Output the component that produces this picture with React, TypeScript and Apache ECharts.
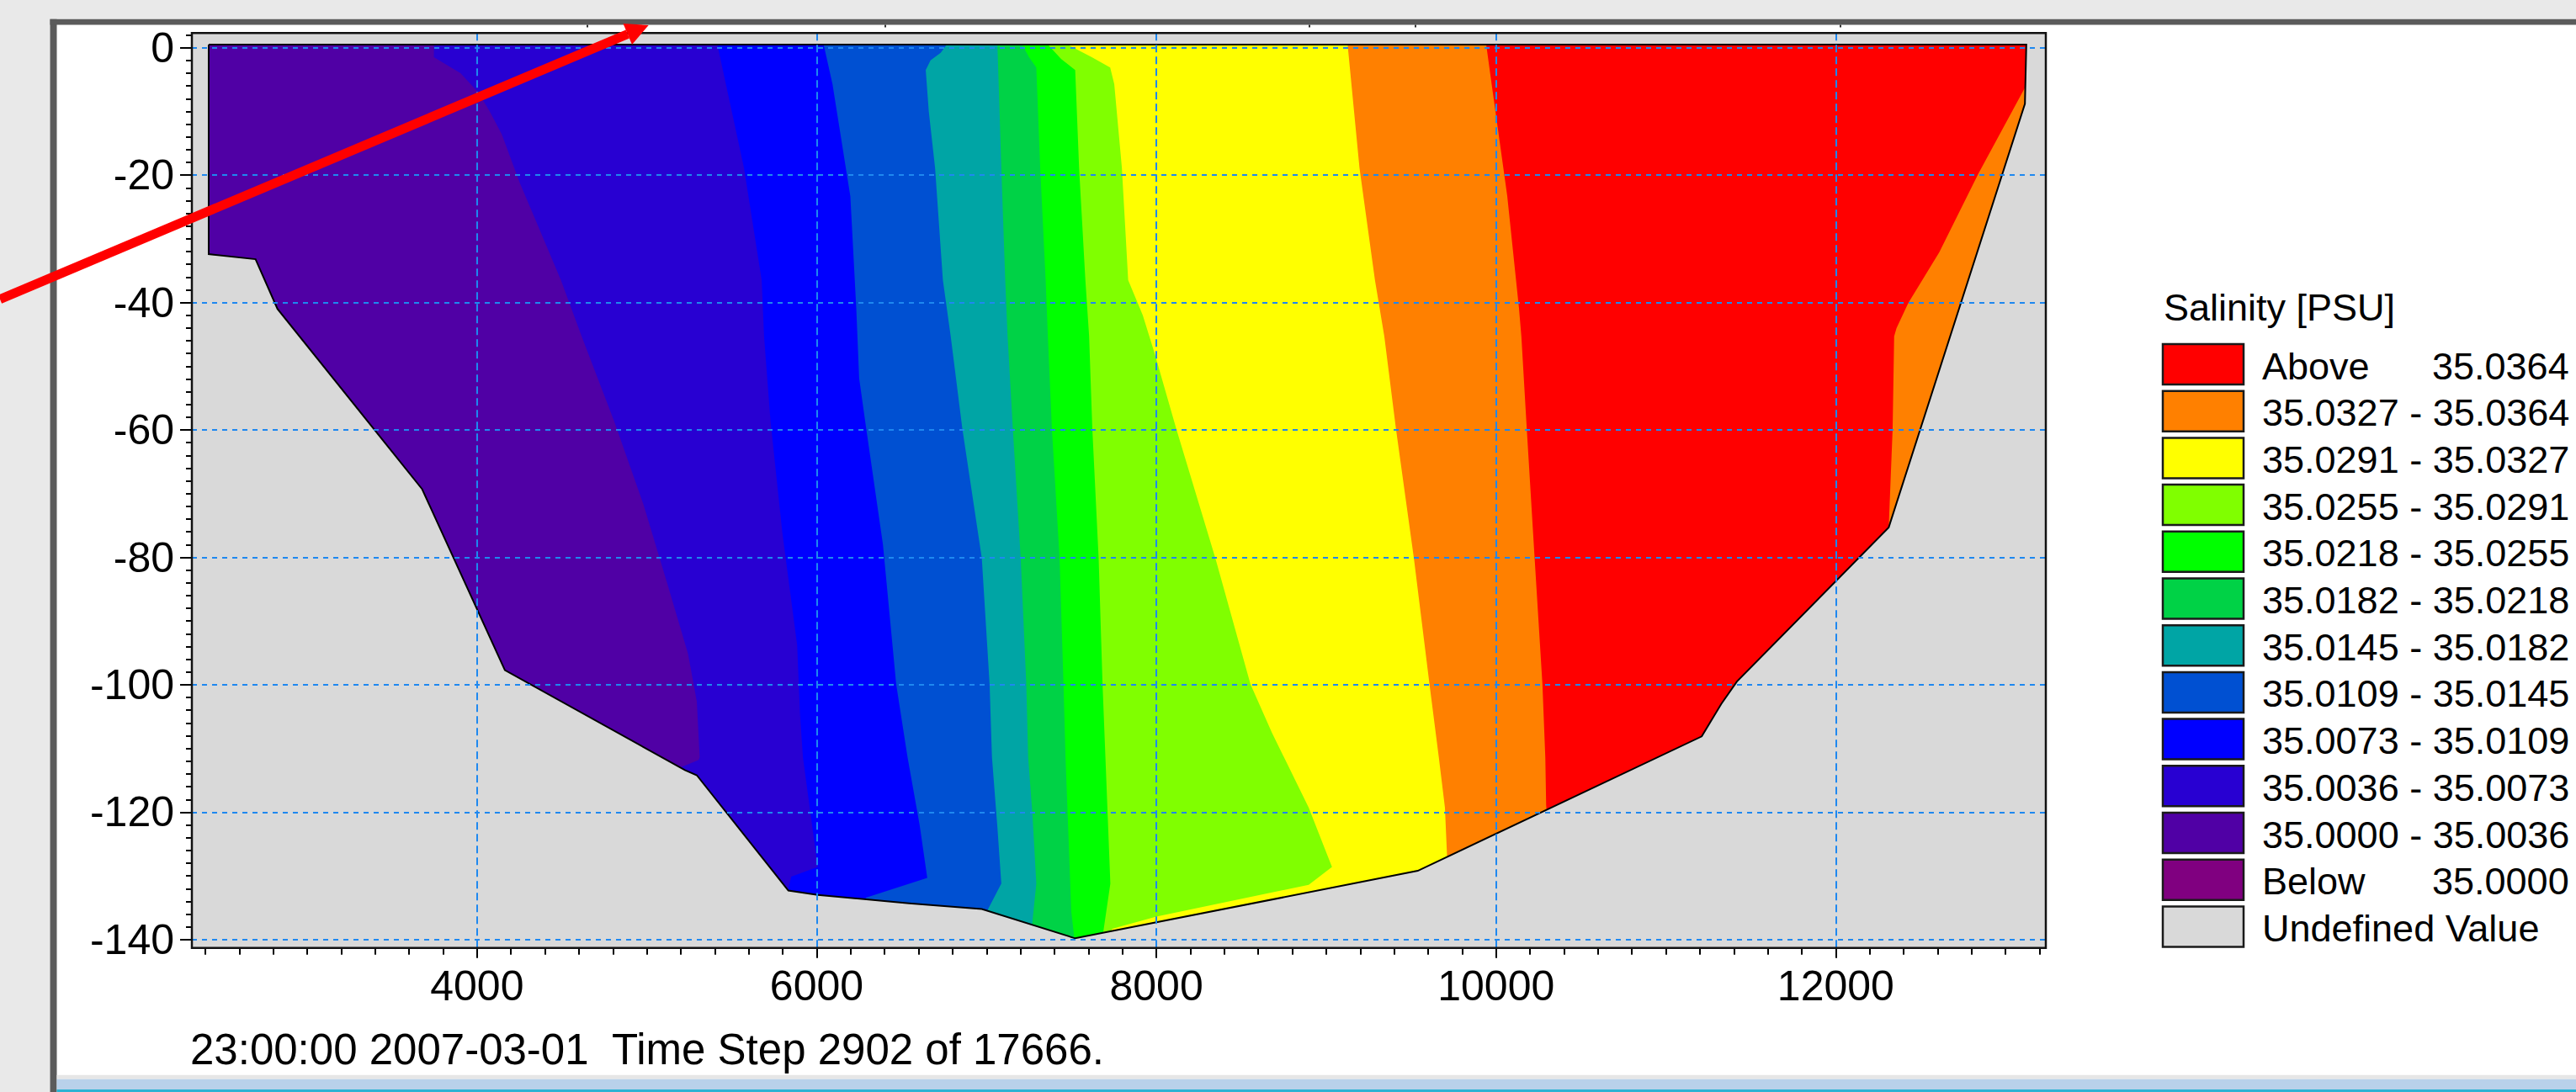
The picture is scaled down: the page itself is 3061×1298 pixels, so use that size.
import React, { useEffect, useRef } from "react";
import * as echarts from "echarts";

const WIDTH = 3061;
const HEIGHT = 1298;

// ---- axes ----
const X_RANGE = [2321, 13237];
const Y_RANGE = [-141.3, 2.3];
const X_TICK_LABELS = [4000, 6000, 8000, 10000, 12000];
const Y_TICK_LABELS = [0, -20, -40, -60, -80, -100, -120, -140];
const X_MINOR_STEP = 200;
const Y_MINOR_STEP = 2;

// ---- texts ----
const BOTTOM_TEXT = "23:00:00 2007-03-01  Time Step 2902 of 17666.";
const LEGEND_TITLE = "Salinity [PSU]";
const LEGEND_LABELS = [
  "Above",
  "35.0327 - 35.0364",
  "35.0291 - 35.0327",
  "35.0255 - 35.0291",
  "35.0218 - 35.0255",
  "35.0182 - 35.0218",
  "35.0145 - 35.0182",
  "35.0109 - 35.0145",
  "35.0073 - 35.0109",
  "35.0036 - 35.0073",
  "35.0000 - 35.0036",
  "Below",
  "Undefined Value",
];
const LEGEND_VALUES = ["35.0364", "", "", "", "", "", "", "", "", "", "", "35.0000", ""];
const LEGEND_COLORS = [
  "#FF0000",
  "#FF8000",
  "#FFFF00",
  "#80FF00",
  "#00FF00",
  "#00D246",
  "#00A5A5",
  "#0050D2",
  "#0000FF",
  "#2800D2",
  "#5000A5",
  "#800080",
  "#D9D9D9",
];
const UNDEFINED_BAND = 12;
const BASE_BAND = 10;

// ---- cross-section outline (x [m], z [m]) ----
const SECTION = [
  [2420, 0.5], [2420, -32.4], [2696, -33.2], [2825, -41.0], [3677, -69.3],
  [4164, -97.7], [5224, -113.4], [5294, -114.2], [5833, -132.3], [6006, -133.0],
  [6544, -134.3], [6972, -135.2], [7522, -139.8], [9539, -129.2], [11211, -108.1],
  [11326, -103.0], [11418, -99.5], [12312, -75.3], [13114, -8.8], [13122, 0.5],
];

// ---- contour lines (top to bottom), each separating two salinity bands ----
const CONTOUR_0036 = [
  [3746, 0.5], [3746, -1.5], [3903, -4.0], [4007, -7.0], [4077, -10.1], [4146, -13.6],
  [4250, -21.1], [4355, -27.7], [4494, -36.5], [4616, -45.3], [4807, -58.6], [4980, -71.7],
  [5120, -84.1], [5242, -95.1], [5294, -102.6], [5311, -111.4], [5305, -111.8], [5150, -113.5],
];
const CONTOUR_0073 = [
  [5415, 0.5], [5572, -18.9], [5676, -36.5], [5690, -45.3], [5728, -58.6], [5798, -76.2],
  [5885, -93.8], [5902, -104.8], [5919, -111.4], [6006, -128.6], [5850, -130.1], [5820, -133.5],
];
const CONTOUR_0109 = [
  [6041, 0.5], [6093, -5.7], [6198, -23.3], [6233, -40.9], [6250, -51.9], [6290, -59.5],
  [6390, -78.0], [6468, -99.9], [6535, -111.4], [6606, -122.0], [6651, -130.3], [6290, -133.4],
  [6270, -134.8],
];
const CONTOUR_0145 = [
  [6766, 0.5], [6730, -0.8], [6670, -2.0], [6642, -3.5], [6660, -10.0], [6697, -18.9],
  [6743, -36.5], [6789, -45.3], [6858, -59.9], [6972, -80.1], [7018, -99.9], [7032, -111.4],
  [7064, -122.4], [7087, -131.2], [6990, -136.2],
];
const CONTOUR_0182 = [
  [7064, 0.5], [7087, -18.9], [7110, -36.5], [7124, -45.3], [7155, -59.9], [7201, -80.1],
  [7234, -99.9], [7245, -111.4], [7270, -120.2], [7293, -131.2], [7265, -138.5],
];
const CONTOUR_0218 = [
  [7210, 0.5], [7250, -1.5], [7293, -3.1], [7316, -18.9], [7348, -36.5], [7361, -45.3],
  [7385, -59.9], [7430, -80.1], [7453, -99.9], [7465, -111.4], [7499, -135.6], [7522, -141.0],
];
const CONTOUR_0255 = [
  [7361, 0.5], [7440, -1.8], [7522, -3.5], [7545, -18.9], [7582, -36.5], [7604, -45.3],
  [7623, -59.9], [7660, -80.1], [7683, -99.9], [7700, -111.4], [7729, -131.2], [7683, -139.6],
];
const CONTOUR_0291 = [
  [7477, 0.5], [7620, -1.5], [7728, -3.1], [7752, -5.7], [7797, -18.9], [7834, -36.5],
  [7920, -42.0], [7990, -48.0], [8118, -59.9], [8347, -80.1], [8554, -99.9], [8680, -107.5],
  [8897, -119.3], [9034, -128.6], [8897, -131.4], [8000, -136.4], [7740, -138.3], [7715, -139.5],
];
const CONTOUR_0327 = [
  [9126, 0.5], [9196, -18.9], [9287, -36.5], [9342, -45.3], [9411, -59.9], [9516, -80.1],
  [9608, -99.9], [9663, -111.4], [9699, -119.3], [9713, -127.8],
];
const CONTOUR_0364 = [
  [9942, 0.5], [9974, -5.7], [10066, -23.3], [10135, -40.9], [10149, -45.3], [10181, -59.9],
  [10227, -80.1], [10273, -99.9], [10290, -111.4], [10295, -118.9], [10300, -120.5],
];
const CONTOUR_0364_EAST = [
  [13140, -5.0], [12839, -19.8], [12610, -32.1], [12427, -40.1], [12358, -44.0], [12344, -45.3],
  [12335, -59.9], [12312, -75.3], [12300, -77.0],
];

const CONTOURS = [
  CONTOUR_0036, CONTOUR_0073, CONTOUR_0109, CONTOUR_0145, CONTOUR_0182, CONTOUR_0218,
  CONTOUR_0255, CONTOUR_0291, CONTOUR_0327, CONTOUR_0364, CONTOUR_0364_EAST,
];
// legend band index that lies to the right / below each contour
const CONTOUR_BANDS = [9, 8, 7, 6, 5, 4, 3, 2, 1, 0, 1];

const FONT = '"Liberation Sans", Arial, Helvetica, sans-serif';

function buildShapes() {
  const [x0, x1] = X_RANGE;
  const [y0, y1] = Y_RANGE;
  const shapes: any[] = [];
  shapes.push({ kind: "polygon", pts: SECTION, fill: LEGEND_COLORS[BASE_BAND] });
  CONTOURS.forEach((c, i) => {
    const first = c[0];
    const last = c[c.length - 1];
    shapes.push({
      kind: "polygon",
      pts: [[first[0], y1], ...c, [last[0], y0], [x1, y0], [x1, y1]],
      fill: LEGEND_COLORS[CONTOUR_BANDS[i]],
    });
  });
  const rev = SECTION.slice().reverse();
  shapes.push({
    kind: "polygon",
    pts: [[x0, y1], [x0, y0], [x1, y0], [x1, y1], ...rev, SECTION[SECTION.length - 1], [x1, y1]],
    fill: LEGEND_COLORS[UNDEFINED_BAND],
  });
  shapes.push({ kind: "polyline", pts: [...SECTION, SECTION[0]], stroke: "#000000" });
  return shapes;
}

function range(start: number, end: number, step: number) {
  const out: number[] = [];
  const s = Math.ceil(start / step) * step;
  for (let v = s; v <= end + 1e-9; v += step) out.push(Math.round(v * 1000) / 1000);
  return out;
}

function textStyle(text: string, size: number) {
  return {
    text,
    fill: "#000",
    font: `${size}px ${FONT}`,
    textAlign: "left",
    textVerticalAlign: "middle",
    align: "left",
    verticalAlign: "middle",
  };
}

export default function App() {
  const ref = useRef<HTMLDivElement>(null);

  useEffect(() => {
    if (!ref.current) return;
    const chart = echarts.init(ref.current, undefined, { renderer: "svg" });
    const shapes = buildShapes();

    const GRID = { left: 228, top: 39.3, width: 2203, height: 1087.4 };
    const xMinor = range(X_RANGE[0], X_RANGE[1], X_MINOR_STEP);
    const yMinor = range(Y_RANGE[0], Y_RANGE[1], Y_MINOR_STEP);

    const gridDash = { color: "#1E88F0", width: 2 };

    const LEG_FONT = 45;
    const LEG_X = 2570;
    const LEG_TEXT_X = 2688;
    const LEG_VALUE_X = 2890;
    const LEG_Y = 409;
    const LEG_PITCH = 55.7;
    const legendEls: any[] = [];
    legendEls.push({ type: "text", x: 2571, y: 365, style: textStyle(LEGEND_TITLE, LEG_FONT) });
    LEGEND_LABELS.forEach((lab, i) => {
      const top = LEG_Y + i * LEG_PITCH;
      legendEls.push({
        type: "rect",
        shape: { x: LEG_X, y: top, width: 96, height: 48 },
        style: { fill: LEGEND_COLORS[i], stroke: "#1a1a1a", lineWidth: 2.5 },
      });
      legendEls.push({ type: "text", x: LEG_TEXT_X, y: top + 26, style: textStyle(lab, LEG_FONT) });
      if (LEGEND_VALUES[i]) {
        legendEls.push({
          type: "text",
          x: LEG_VALUE_X,
          y: top + 26,
          style: textStyle(LEGEND_VALUES[i], LEG_FONT),
        });
      }
    });

    const frameEls: any[] = [
      { type: "rect", shape: { x: 0, y: 0, width: 59.5, height: HEIGHT }, style: { fill: "#E9E9E9" }, z: -5 },
      { type: "rect", shape: { x: 0, y: 0, width: WIDTH, height: 22.7 }, style: { fill: "#E9E9E9" }, z: -5 },
      { type: "rect", shape: { x: 59.5, y: 22.7, width: 8, height: HEIGHT }, style: { fill: "#5B5B5B" }, z: -4 },
      { type: "rect", shape: { x: 59.5, y: 22.7, width: WIDTH, height: 6.8 }, style: { fill: "#5B5B5B" }, z: -4 },
      { type: "rect", shape: { x: 67.5, y: 1277.7, width: WIDTH, height: 5 }, style: { fill: "#E6E6E6" }, z: -4 },
      { type: "rect", shape: { x: 67.5, y: 1282.7, width: WIDTH, height: 12.3 }, style: { fill: "#B9D1EA" }, z: -4 },
      { type: "rect", shape: { x: 67.5, y: 1295, width: WIDTH, height: 3 }, style: { fill: "#2BB3D3" }, z: -4 },
      ...[697, 1051, 1555, 1681, 2186].map((x) => ({
        type: "rect",
        shape: { x, y: 29.5, width: 2, height: 3 },
        style: { fill: "#333" },
        z: -3,
      })),
      {
        type: "rect",
        shape: { x: GRID.left, y: GRID.top, width: GRID.width, height: GRID.height },
        style: { fill: "none", stroke: "#111", lineWidth: 2.5 },
        z: 20,
      },
      { type: "text", x: 226, y: 1247.5, style: textStyle(BOTTOM_TEXT, 51) },
      {
        type: "line",
        shape: { x1: 0, y1: 355.7, x2: 745.8, y2: 40.5 },
        style: { stroke: "#FF0000", lineWidth: 11 },
        z: 30,
      },
      {
        type: "polygon",
        shape: { points: [[770.7, 30], [740.5, 28.1], [751, 52.9]] },
        style: { fill: "#FF0000" },
        z: 30,
      },
    ];

    const axisLabelStyle = {
      color: "#000",
      fontSize: 50,
      fontFamily: FONT,
      formatter: (v: number) => String(v),
    };

    const option: any = {
      animation: false,
      backgroundColor: "#FFFFFF",
      grid: { ...GRID, show: false },
      xAxis: [
        {
          type: "value",
          min: X_RANGE[0],
          max: X_RANGE[1],
          position: "bottom",
          z: 5,
          axisLine: { show: true, onZero: false, lineStyle: { color: "#000", width: 2 } },
          axisTick: { show: true, customValues: X_TICK_LABELS, length: 12, lineStyle: { color: "#000", width: 2 } },
          axisLabel: { customValues: X_TICK_LABELS, margin: 20, ...axisLabelStyle },
          splitLine: { show: true, lineStyle: { ...gridDash, type: [9, 5] } },
        },
        {
          type: "value",
          min: X_RANGE[0],
          max: X_RANGE[1],
          position: "bottom",
          z: 5,
          axisLine: { show: false, onZero: false },
          axisTick: { show: true, customValues: xMinor, length: 8, lineStyle: { color: "#000", width: 2 } },
          axisLabel: { show: false },
          splitLine: { show: false },
        },
      ],
      yAxis: [
        {
          type: "value",
          min: Y_RANGE[0],
          max: Y_RANGE[1],
          position: "left",
          z: 5,
          axisLine: { show: true, onZero: false, lineStyle: { color: "#000", width: 2 } },
          axisTick: { show: true, customValues: Y_TICK_LABELS, length: 14, lineStyle: { color: "#000", width: 2 } },
          axisLabel: { customValues: Y_TICK_LABELS, margin: 21, ...axisLabelStyle },
          splitLine: { show: true, lineStyle: { ...gridDash, type: [6, 6] } },
        },
        {
          type: "value",
          min: Y_RANGE[0],
          max: Y_RANGE[1],
          position: "left",
          z: 5,
          axisLine: { show: false, onZero: false },
          axisTick: { show: true, customValues: yMinor, length: 7, lineStyle: { color: "#000", width: 2 } },
          axisLabel: { show: false },
          splitLine: { show: false },
        },
      ],
      graphic: { elements: [...frameEls, ...legendEls] },
      series: [
        {
          type: "custom",
          coordinateSystem: "cartesian2d",
          xAxisIndex: 0,
          yAxisIndex: 0,
          z: 1,
          silent: true,
          encode: { x: 0, y: 1 },
          data: shapes.map((_, i) => [X_RANGE[0], Y_RANGE[0], i]),
          renderItem: (params: any, api: any) => {
            const s = shapes[params.dataIndex];
            const points = s.pts.map((p: number[]) => api.coord(p));
            if (s.kind === "polyline") {
              return {
                type: "polyline",
                z2: params.dataIndex,
                shape: { points },
                style: { fill: "none", stroke: s.stroke, lineWidth: 2 },
              };
            }
            return {
              type: "polygon",
              z2: params.dataIndex,
              shape: { points },
              style: { fill: s.fill, stroke: null, lineWidth: 0 },
            };
          },
        },
      ],
    };

    chart.setOption(option);
    return () => chart.dispose();
  }, []);

  return (
    <div
      ref={ref}
      style={{ position: "fixed", left: 0, top: 0, width: WIDTH + "px", height: HEIGHT + "px" }}
    />
  );
}
